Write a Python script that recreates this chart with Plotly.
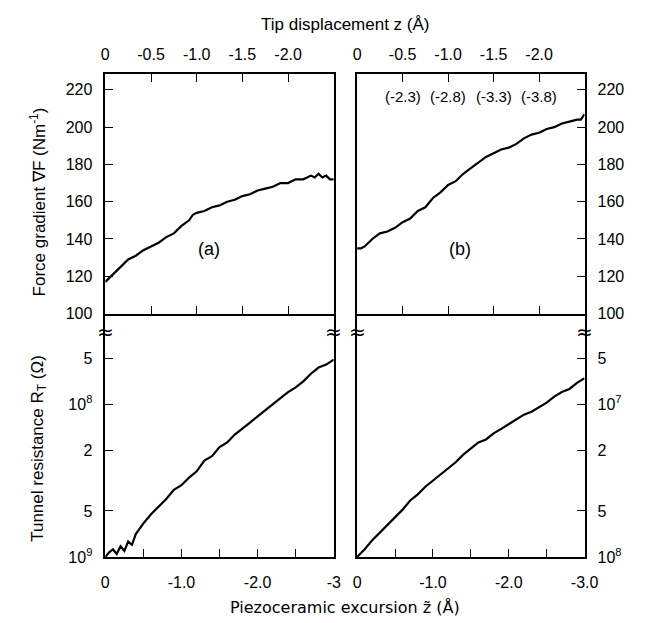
import plotly.graph_objects as go

# ---------------- data ----------------
piezo_fa = [0, -0.1, -0.2, -0.3, -0.4, -0.5, -0.6, -0.7, -0.8, -0.9, -1.0, -1.1, -1.15, -1.2, -1.3, -1.4,
            -1.5, -1.6, -1.7, -1.8, -1.9, -2.0, -2.1, -2.2, -2.3, -2.4, -2.5, -2.6, -2.7, -2.75, -2.8,
            -2.85, -2.9, -2.95, -3.0]
force_a = [117, 121, 125, 129, 131, 134, 136, 138, 141, 143, 147, 150, 153, 154, 155, 157,
           158, 160, 161, 163, 164, 166, 167, 168, 170, 170, 172, 172, 174, 173, 175,
           173, 174, 172, 172]

piezo_fb = [0, -0.05, -0.1, -0.2, -0.3, -0.4, -0.5, -0.6, -0.7, -0.8, -0.9, -1.0, -1.1, -1.2, -1.3,
            -1.4, -1.5, -1.6, -1.7, -1.8, -1.9, -2.0, -2.1, -2.2, -2.3, -2.4, -2.5, -2.6, -2.7,
            -2.8, -2.9, -2.95, -3.0]
force_b = [135, 135, 136, 140, 143, 144, 146, 149, 151, 155, 157, 162, 165, 169, 171,
           175, 178, 181, 184, 186, 188, 189, 191, 194, 196, 197, 199, 200, 202,
           203, 204, 204, 207]

piezo_ra = [0, -0.05, -0.1, -0.15, -0.2, -0.25, -0.3, -0.35, -0.4, -0.5, -0.6, -0.7, -0.8, -0.9,
            -1.0, -1.1, -1.2, -1.3, -1.4, -1.5, -1.6, -1.7, -1.8, -1.9, -2.0, -2.1, -2.2, -2.3,
            -2.4, -2.5, -2.6, -2.7, -2.8, -2.9, -2.95, -3.0]
resist_a = [1.00e9, 9.33e8, 8.91e8, 9.55e8, 8.51e8, 9.12e8, 7.94e8, 8.32e8, 7.08e8, 6.03e8, 5.25e8,
            4.68e8, 4.17e8, 3.63e8, 3.39e8, 3.02e8, 2.75e8, 2.34e8, 2.19e8, 1.91e8, 1.78e8, 1.58e8,
            1.45e8, 1.32e8, 1.20e8, 1.10e8, 1.00e8, 9.12e7, 8.32e7, 7.76e7, 7.08e7, 6.31e7, 5.75e7,
            5.50e7, 5.30e7, 5.10e7]

piezo_rb = [0, -0.1, -0.2, -0.3, -0.4, -0.5, -0.6, -0.7, -0.8, -0.9, -1.0, -1.1, -1.2, -1.3, -1.4,
            -1.5, -1.6, -1.7, -1.8, -1.9, -2.0, -2.1, -2.2, -2.3, -2.4, -2.5, -2.6, -2.7, -2.8,
            -2.9, -3.0]
resist_b = [1.00e8, 8.91e7, 7.76e7, 6.92e7, 6.17e7, 5.50e7, 4.90e7, 4.27e7, 3.89e7, 3.47e7, 3.16e7,
            2.88e7, 2.63e7, 2.40e7, 2.14e7, 1.95e7, 1.78e7, 1.70e7, 1.55e7, 1.45e7, 1.35e7, 1.26e7,
            1.17e7, 1.12e7, 1.05e7, 9.77e6, 8.91e6, 8.32e6, 7.94e6, 7.24e6, 6.76e6]

tip_ticks = [0, -0.5, -1.0, -1.5, -2.0]
tip_labels = ["0", "-0.5", "-1.0", "-1.5", "-2.0"]
tip_range_end = -2.5            # tip displacement at the right edge of each panel
piezo_range_end = -3.0
piezo_major = [0, -1.0, -2.0, -3.0]
piezo_labels_a = ["0", "-1.0", "-2.0", "-3"]
piezo_labels_b = ["0", "-1.0", "-2.0", "-3.0"]
piezo_minor = [-0.5, -1.5, -2.5]
force_ticks = [100, 120, 140, 160, 180, 200, 220]
res_ticks_a = [5e7, 1e8, 2e8, 5e8, 1e9]
res_labels_a = ["5", "10<sup>8</sup>", "2", "5", "10<sup>9</sup>"]
res_ticks_b = [5e6, 1e7, 2e7, 5e7, 1e8]
res_labels_b = ["5", "10<sup>7</sup>", "2", "5", "10<sup>8</sup>"]
paren_labels = ["(-2.3)", "(-2.8)", "(-3.3)", "(-3.8)"]
paren_tip = [-0.5, -1.0, -1.5, -2.0]

# tip displacement axis is linear in piezo excursion
scale = piezo_range_end / tip_range_end
tip_pos = [t * scale for t in tip_ticks]
paren_pos = [t * scale for t in paren_tip]

# ---------------- layout geometry ----------------
W, H = 646, 623
def px(x):
    return x / W
def py(y):
    return (H - y) / H

xa = [px(96), px(331)]
xb = [px(355), px(589)]
ytop = [py(310), py(67)]
ybot = [py(557), py(310)]

FONT = "Liberation Sans, Arial, sans-serif"
tickfont = dict(family=FONT, size=16, color="black")
line = dict(color="black", width=2.2)

fig = go.Figure()
fig.add_trace(go.Scatter(x=piezo_ra, y=resist_a, mode="lines", line=line, xaxis="x", yaxis="y"))
fig.add_trace(go.Scatter(x=piezo_fa, y=force_a, mode="lines", line=line, xaxis="x2", yaxis="y2"))
fig.add_trace(go.Scatter(x=piezo_rb, y=resist_b, mode="lines", line=line, xaxis="x3", yaxis="y3"))
fig.add_trace(go.Scatter(x=piezo_fb, y=force_b, mode="lines", line=line, xaxis="x4", yaxis="y4"))

common_ax = dict(showgrid=False, zeroline=False, showline=True, linecolor="black", linewidth=1.5,
                 ticks="inside", tickcolor="black", tickwidth=1.3, ticklen=8, tickfont=tickfont)
minor_x = dict(tickmode="array", tickvals=piezo_minor, ticks="inside", ticklen=8,
               tickcolor="black", tickwidth=1.3, showgrid=False)

layout = dict(
    width=W, height=H, margin=dict(l=0, r=0, t=0, b=0),
    paper_bgcolor="white", plot_bgcolor="white", showlegend=False,
    # bottom-left
    xaxis=dict(domain=xa, anchor="y", range=[0, piezo_range_end], tickvals=piezo_major,
               ticktext=piezo_labels_a, minor=minor_x, ticklabelstandoff=10, **common_ax),
    yaxis=dict(domain=ybot, anchor="x", type="log", range=[9, 7.406], tickvals=res_ticks_a,
               ticktext=res_labels_a, mirror=True, ticklabelstandoff=8, **common_ax),
    # top-left
    xaxis2=dict(domain=xa, anchor="y2", side="top", range=[0, piezo_range_end], tickvals=tip_pos,
                ticktext=tip_labels, mirror="ticks", ticklabelstandoff=6, **common_ax),
    yaxis2=dict(domain=ytop, anchor="x2", range=[100, 228.5], tickvals=force_ticks,
                mirror=True, ticklabelstandoff=8, **common_ax),
    # bottom-right
    xaxis3=dict(domain=xb, anchor="y3", range=[0, piezo_range_end], tickvals=piezo_major,
                ticktext=piezo_labels_b, minor=minor_x, ticklabelstandoff=10, **common_ax),
    yaxis3=dict(domain=ybot, anchor="x3", side="right", type="log", range=[8, 6.406],
                tickvals=res_ticks_b, ticktext=res_labels_b, mirror=True, ticklabelstandoff=8, **common_ax),
    # top-right
    xaxis4=dict(domain=xb, anchor="y4", side="top", range=[0, piezo_range_end], tickvals=tip_pos,
                ticktext=tip_labels, mirror="ticks", ticklabelstandoff=6, **common_ax),
    yaxis4=dict(domain=ytop, anchor="x4", side="right", range=[100, 228.5], tickvals=force_ticks,
                mirror=True, ticklabelstandoff=8, **common_ax),
)
fig.update_layout(**layout)

def note(text, x, y, size, family=FONT, angle=0, xref="paper"):
    return dict(text=text, x=x, y=y, xref=xref, yref="paper", showarrow=False, textangle=angle,
                xanchor="center", yanchor="middle", font=dict(family=family, size=size, color="black"))

ann = [
    note("Tip displacement z (Å)", px(343), py(17), 17),
    note("Piezoceramic excursion z\u0303 (Å)", px(343), py(608), 16, family="DejaVu Sans, sans-serif"),
    note("Force gradient \u2207F (Nm<sup>-1</sup>)", px(27), py(197), 17, angle=-90),
    note("Tunnel resistance R<sub>T</sub> (\u03a9)", px(27), py(447), 17, angle=-90),
    note("(a)", px(203), py(245), 18),
    note("(b)", px(461), py(245), 18),
]
for lab, pos in zip(paren_labels, paren_pos):
    ann.append(note(lab, pos, py(90), 15, family="Liberation Sans Narrow, Liberation Sans, sans-serif",
                    xref="x4"))
for xx in [96, 331, 355, 589]:
    ann.append(note("\u2248", px(xx), py(329), 20, family="DejaVu Sans, sans-serif"))
fig.update_layout(annotations=ann)

fig.write_html("out.html")
